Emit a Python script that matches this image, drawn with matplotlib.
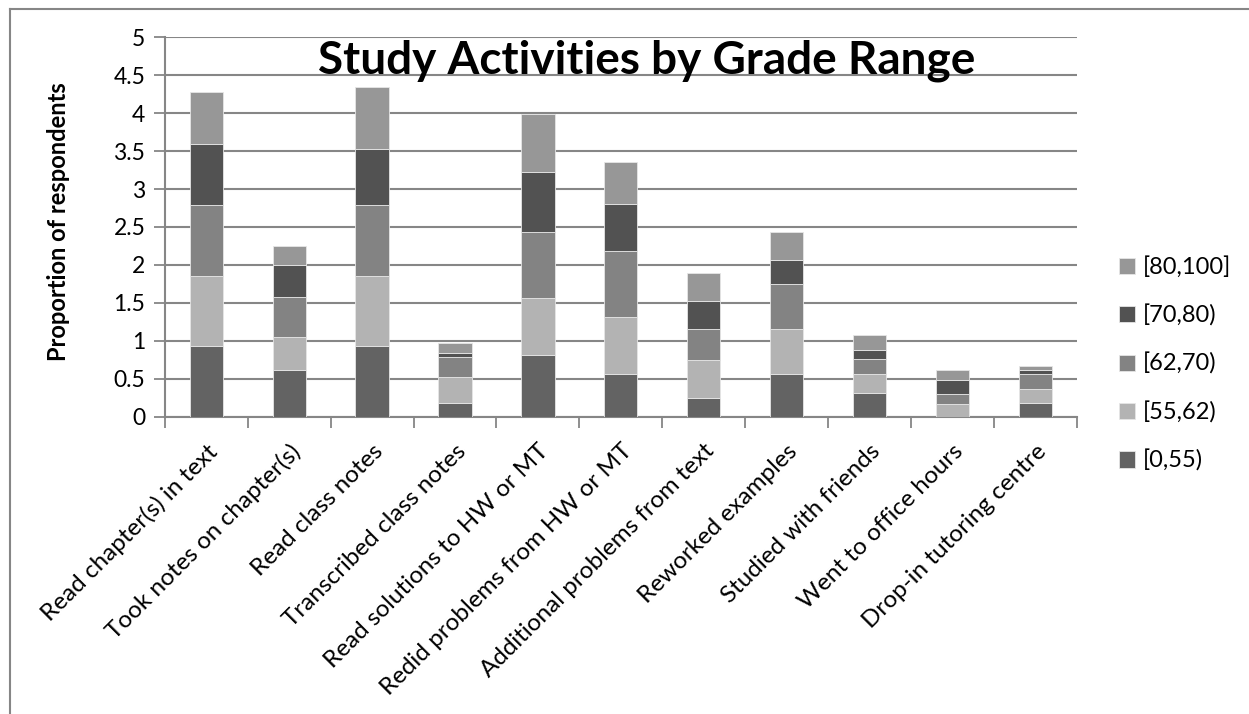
import matplotlib
matplotlib.use("Agg")
import matplotlib.pyplot as plt
import numpy as np

activities = [
    "Read chapter(s) in text",
    "Took notes on chapter(s)",
    "Read class notes",
    "Transcribed class notes",
    "Read solutions to HW or MT",
    "Redid problems from HW or MT",
    "Additional problems from text",
    "Reworked examples",
    "Studied with friends",
    "Went to office hours",
    "Drop-in tutoring centre",
]

grade_ranges = ["[0,55)", "[55,62)", "[62,70)", "[70,80)", "[80,100]"]

g0_55 = [0.93, 0.62, 0.93, 0.18, 0.81, 0.56, 0.245, 0.56, 0.31, 0.00, 0.18]
g55_62 = [0.92, 0.43, 0.92, 0.34, 0.75, 0.76, 0.505, 0.59, 0.25, 0.17, 0.18]
g62_70 = [0.94, 0.53, 0.94, 0.27, 0.87, 0.86, 0.405, 0.60, 0.20, 0.13, 0.20]
g70_80 = [0.80, 0.42, 0.74, 0.05, 0.80, 0.62, 0.365, 0.31, 0.12, 0.18, 0.055]
g80_100 = [0.69, 0.25, 0.81, 0.13, 0.76, 0.56, 0.38, 0.37, 0.19, 0.13, 0.055]

series = [g0_55, g55_62, g62_70, g70_80, g80_100]
colors = ["#636363", "#b3b3b3", "#838383", "#525252", "#979797"]

plt.rcParams["font.family"] = ["Lato", "DejaVu Sans"]

fig = plt.figure(figsize=(12.49, 7.14), dpi=100)
ax = fig.add_axes([0.1319, 0.4164, 0.7304, 0.5314])

x = np.arange(len(activities))
bottom = np.zeros(len(activities))
for vals, col, lab in zip(series, colors, grade_ranges):
    ax.bar(x, vals, width=0.4, bottom=bottom, color=col, label=lab,
           edgecolor="#e6e6e6", linewidth=0.6, zorder=3)
    bottom += np.array(vals)

ax.set_xlim(-0.5, len(activities) - 0.5)
ax.set_ylim(0, 5)
ax.set_yticks(np.arange(0, 5.01, 0.5))
ax.set_yticklabels(["0", "0.5", "1", "1.5", "2", "2.5", "3", "3.5", "4", "4.5", "5"])
ax.yaxis.grid(True, color="#868686", linewidth=1.5, zorder=0)

ax.set_xticks(x)
ax.set_xticklabels(activities, rotation=45, ha="right", rotation_mode="anchor",
                   fontsize=17.5)
ax.set_xticks(np.arange(-0.5, len(activities), 1), minor=True)
ax.tick_params(axis="x", which="major", length=0, pad=17)
ax.tick_params(axis="x", which="minor", length=8, width=1.3, color="#868686",
               direction="out")
ax.tick_params(axis="y", length=8, width=1.3, color="#868686", labelsize=16.5,
               pad=6)

for side in ["top", "right"]:
    ax.spines[side].set_visible(False)
for side in ["left", "bottom"]:
    ax.spines[side].set_color("#868686")
    ax.spines[side].set_linewidth(1.5)

fig.text(59 / 1249, 1 - 222 / 714, "Proportion of respondents", fontsize=17,
         fontweight="bold", rotation=90, ha="center", va="center")
fig.text(0.5176, 1 - 73 / 714, "Study Activities by Grade Range", fontsize=33,
         fontweight="bold", ha="center", va="baseline")

handles, labels = ax.get_legend_handles_labels()
fig.legend(handles[::-1], labels[::-1], loc="center left",
           bbox_to_anchor=(1119 / 1249, 1 - 364 / 714), frameon=False,
           fontsize=17, handlelength=0.68, handleheight=0.68,
           handletextpad=0.35, labelspacing=1.12, borderpad=0,
           borderaxespad=0)

# outer chart border (top and left visible)
fig.add_artist(plt.Line2D([10 / 1249, 1], [1 - 8.5 / 714, 1 - 8.5 / 714],
                          color="#868686", linewidth=1.5,
                          transform=fig.transFigure))
fig.add_artist(plt.Line2D([10 / 1249, 10 / 1249], [0, 1 - 8.5 / 714],
                          color="#868686", linewidth=1.5,
                          transform=fig.transFigure))

fig.savefig("out.png", dpi=100)
